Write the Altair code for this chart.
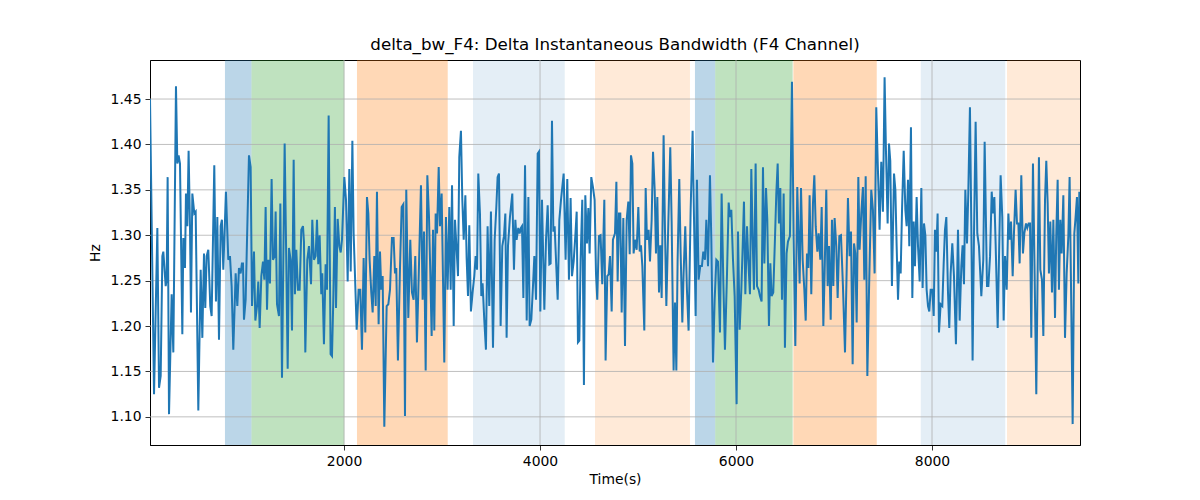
import altair as alt
import pandas as pd

time_s = [
    20, 61, 95, 112, 129, 146, 156, 180, 190, 200, 214, 241, 258, 285, 299, 312, 326, 350, 360, 377,
    387, 401, 414, 428, 438, 452, 472, 486, 513, 537, 554, 571, 584, 598, 615, 635, 649, 676, 693, 707,
    724, 741, 754, 768, 795, 819, 836, 853, 870, 894, 911, 928, 945, 958,
    969, 979, 996, 1010, 1030, 1047, 1061, 1081, 1095, 1112, 1125, 1139, 1156, 1173, 1187, 1200, 1214, 1227, 1244, 1261,
    1275, 1292, 1302, 1316, 1336, 1350, 1367, 1394, 1411, 1425, 1438, 1455, 1469, 1486, 1499, 1513, 1530, 1547, 1564, 1581,
    1591, 1605, 1625, 1642, 1663, 1676, 1693, 1710, 1724, 1737, 1751, 1768, 1778, 1795, 1812, 1826, 1843, 1863, 1877, 1890, 1907,
    1918, 1935, 1952, 1966, 1979, 2003, 2020, 2037, 2054, 2068, 2085, 2098, 2112, 2129, 2149, 2166, 2183, 2200, 2217, 2234,
    2248, 2261, 2278, 2292, 2309, 2323, 2336, 2353, 2367, 2380, 2394, 2411, 2435, 2452, 2469, 2489, 2506, 2520, 2533, 2550,
    2571, 2588, 2605, 2622, 2635, 2656, 2676, 2693, 2710, 2727, 2744, 2761, 2785, 2802, 2816, 2833, 2850,
    2867, 2881, 2894, 2908, 2921, 2935, 2949, 2966, 2979, 2996, 3010, 3023, 3040, 3057, 3074, 3088, 3102, 3119, 3132, 3149,
    3163, 3176, 3193, 3207, 3221, 3238, 3251, 3265, 3278, 3295, 3312, 3329, 3343, 3357, 3370, 3387, 3401, 3414, 3431, 3448,
    3465, 3482, 3499, 3520, 3537, 3554, 3567, 3581, 3598, 3615, 3632, 3646, 3659, 3673, 3693, 3717, 3734, 3748, 3761, 3778,
    3792, 3805,
    3816, 3830, 3847, 3864, 3881, 3894, 3911, 3928, 3942, 3959, 3976, 3989, 4003, 4020, 4044, 4061, 4078, 4095, 4108, 4122,
    4136, 4149, 4163, 4180, 4197, 4214, 4241, 4261, 4278, 4295, 4312, 4326, 4343, 4360, 4374, 4387, 4401, 4414, 4431, 4448,
    4462, 4479, 4493, 4506, 4523, 4540, 4557, 4571, 4584, 4601, 4618, 4635, 4656, 4669, 4686, 4700, 4714, 4731, 4744,
    4765, 4779, 4792, 4806, 4819, 4833, 4850, 4867, 4884, 4901, 4915, 4928, 4942, 4955, 4969, 4986, 5003, 5017, 5030, 5044,
    5064, 5078, 5091, 5108, 5122, 5139, 5153, 5170, 5183, 5197, 5214, 5227, 5241, 5261, 5275, 5289, 5309, 5329, 5343, 5363,
    5377, 5391, 5404, 5421, 5435, 5452, 5465, 5482, 5499, 5516, 5537, 5557, 5571, 5588, 5601, 5618, 5635, 5652, 5666, 5683, 5697,
    5714, 5734, 5748, 5765, 5782, 5799, 5816, 5836, 5853, 5870, 5887, 5908, 5925, 5938, 5952, 5969, 5986, 6006, 6020, 6037,
    6054, 6068, 6081, 6095, 6112, 6125, 6142, 6156, 6170, 6183, 6200, 6214, 6231, 6244, 6261, 6275, 6289, 6306, 6319, 6336,
    6350, 6363, 6380, 6397, 6411, 6425, 6438, 6452, 6469, 6486, 6499, 6516, 6530, 6550, 6571, 6588, 6605, 6625, 6649,
    6663, 6680, 6697, 6711, 6724, 6738, 6751, 6768, 6785, 6799, 6813, 6830, 6843, 6860, 6874, 6891, 6904, 6921, 6935, 6949,
    6966, 6979, 6993, 7006, 7023, 7037, 7054, 7071, 7091, 7112, 7129, 7142, 7159, 7173, 7190, 7204, 7217, 7231, 7248, 7261,
    7278, 7295, 7309, 7323, 7340, 7360, 7380, 7397, 7414, 7431, 7448, 7465, 7482, 7499, 7516, 7530, 7547, 7561, 7574, 7591,
    7612, 7626, 7639, 7653, 7666, 7680, 7694, 7711, 7728, 7741, 7755, 7768, 7785, 7799, 7813, 7826, 7843, 7857, 7874, 7891,
    7904, 7918, 7932, 7945, 7959, 7972, 7986, 8003, 8017, 8030, 8044, 8057, 8071, 8088, 8105, 8119, 8132, 8146, 8163, 8176,
    8190, 8207, 8224, 8244, 8265, 8282, 8299, 8312, 8326, 8340, 8357, 8370, 8387, 8401, 8414, 8428, 8445, 8462, 8479, 8503,
    8523, 8537,
    8561, 8575, 8592, 8609, 8622, 8636, 8649, 8670, 8683, 8700, 8717, 8731, 8745, 8762, 8779, 8792, 8806, 8823, 8836, 8853,
    8867, 8881, 8894, 8911, 8928, 8942, 8959, 8972, 8986, 9000, 9013, 9030, 9047, 9064, 9078, 9091, 9105, 9122, 9136, 9153,
    9166, 9180, 9193, 9207, 9224, 9238, 9255, 9268, 9282, 9295, 9309, 9323, 9340, 9357, 9374, 9391, 9404, 9418, 9435, 9452,
    9465, 9479, 9493, 9503, 9510,
]

bw_hz = [
    1.450, 1.125, 1.308, 1.132, 1.145, 1.277, 1.282, 1.244, 1.251, 1.364, 1.103, 1.235, 1.171, 1.464, 1.379, 1.388, 1.379, 1.191, 1.297, 1.264,
    1.346, 1.310, 1.393, 1.310, 1.215, 1.346, 1.324, 1.326, 1.107, 1.262, 1.187, 1.280, 1.220, 1.277, 1.284, 1.222, 1.211, 1.377, 1.227, 1.320,
    1.185, 1.310, 1.317, 1.262, 1.348, 1.273, 1.277, 1.244, 1.174, 1.258, 1.222, 1.264, 1.258, 1.269,
    1.269, 1.207, 1.229, 1.295, 1.388, 1.375, 1.222, 1.282, 1.206, 1.222, 1.249, 1.198, 1.255, 1.271, 1.251, 1.331, 1.218, 1.273, 1.247, 1.362,
    1.273, 1.277, 1.326, 1.224, 1.211, 1.335, 1.143, 1.401, 1.268, 1.153, 1.286, 1.273, 1.195, 1.383, 1.235, 1.284, 1.240, 1.240, 1.306, 1.310,
    1.293, 1.171, 1.273, 1.288, 1.246, 1.317, 1.273, 1.277, 1.317, 1.268, 1.300, 1.235, 1.258, 1.180, 1.268, 1.240, 1.432, 1.169, 1.167, 1.227, 1.331,
    1.220, 1.318, 1.288, 1.281, 1.295, 1.364, 1.339, 1.249, 1.373, 1.260, 1.404, 1.302, 1.255, 1.196, 1.240, 1.240, 1.174, 1.275, 1.193, 1.342,
    1.324, 1.273, 1.237, 1.215, 1.277, 1.222, 1.348, 1.202, 1.282, 1.240, 1.255, 1.089, 1.222, 1.224, 1.240, 1.297, 1.297, 1.258, 1.264, 1.162,
    1.264, 1.331, 1.334, 1.101, 1.350, 1.209, 1.295, 1.237, 1.229, 1.277, 1.182, 1.251, 1.355, 1.229, 1.304, 1.151, 1.366,
    1.320, 1.255, 1.189, 1.306, 1.195, 1.324, 1.302, 1.375, 1.310, 1.346, 1.251, 1.160, 1.320, 1.240, 1.331, 1.240, 1.355, 1.200, 1.317, 1.284,
    1.255, 1.386, 1.415, 1.339, 1.295, 1.344, 1.275, 1.233, 1.311, 1.216, 1.237, 1.255, 1.277, 1.262, 1.368, 1.324, 1.233, 1.247, 1.207, 1.174,
    1.310, 1.222, 1.326, 1.176, 1.295, 1.331, 1.364, 1.368, 1.200, 1.288, 1.299, 1.324, 1.187, 1.288, 1.320, 1.346, 1.262, 1.317, 1.295, 1.308,
    1.302, 1.308,
    1.310, 1.231, 1.377, 1.206, 1.342, 1.200, 1.207, 1.244, 1.277, 1.229, 1.390, 1.392, 1.216, 1.339, 1.218, 1.295, 1.333, 1.268, 1.269, 1.426,
    1.304, 1.310, 1.273, 1.229, 1.317, 1.339, 1.368, 1.273, 1.362, 1.251, 1.341, 1.255, 1.271, 1.299, 1.326, 1.182, 1.184, 1.273, 1.339, 1.135,
    1.344, 1.291, 1.330, 1.280, 1.364, 1.353, 1.339, 1.258, 1.229, 1.299, 1.300, 1.246, 1.339, 1.162, 1.255, 1.257, 1.277, 1.216, 1.295,
    1.302, 1.359, 1.249, 1.324, 1.324, 1.215, 1.319, 1.178, 1.317, 1.337, 1.279, 1.388, 1.379, 1.280, 1.295, 1.284, 1.331, 1.282, 1.289, 1.266,
    1.195, 1.352, 1.295, 1.306, 1.271, 1.317, 1.392, 1.350, 1.280, 1.342, 1.237, 1.289, 1.231, 1.410, 1.306, 1.222, 1.313, 1.397, 1.315, 1.151,
    1.226, 1.151, 1.273, 1.362, 1.280, 1.204, 1.258, 1.310, 1.240, 1.195, 1.328, 1.415, 1.320, 1.211, 1.361, 1.251, 1.266, 1.266, 1.282, 1.273, 1.317,
    1.266, 1.366, 1.295, 1.160, 1.229, 1.273, 1.271, 1.193, 1.346, 1.251, 1.174, 1.258, 1.336, 1.320, 1.328, 1.273, 1.233, 1.114, 1.304, 1.196,
    1.240, 1.288, 1.337, 1.235, 1.310, 1.273, 1.235, 1.373, 1.295, 1.240, 1.379, 1.244, 1.240, 1.233, 1.227, 1.375, 1.269, 1.352, 1.317, 1.200,
    1.269, 1.233, 1.237, 1.295, 1.346, 1.379, 1.313, 1.352, 1.229, 1.346, 1.176, 1.280, 1.293, 1.299, 1.469, 1.295, 1.178, 1.353, 1.247,
    1.352, 1.273, 1.240, 1.206, 1.280, 1.264, 1.344, 1.235, 1.335, 1.366, 1.310, 1.282, 1.302, 1.273, 1.331, 1.200, 1.258, 1.350, 1.244, 1.288,
    1.207, 1.317, 1.244, 1.319, 1.288, 1.231, 1.299, 1.300, 1.244, 1.171, 1.262, 1.341, 1.277, 1.304, 1.158, 1.291, 1.280, 1.204, 1.364, 1.284,
    1.324, 1.353, 1.251, 1.365, 1.145, 1.255, 1.350, 1.328, 1.258, 1.441, 1.372, 1.306, 1.381, 1.326, 1.474, 1.393, 1.313, 1.401, 1.382, 1.244,
    1.368, 1.350, 1.288, 1.229, 1.271, 1.258, 1.328, 1.393, 1.328, 1.310, 1.361, 1.288, 1.419, 1.231, 1.315, 1.266, 1.342, 1.288, 1.249, 1.352,
    1.242, 1.313, 1.300, 1.240, 1.222, 1.216, 1.240, 1.240, 1.211, 1.306, 1.282, 1.324, 1.193, 1.224, 1.222, 1.269, 1.306, 1.320, 1.237, 1.198,
    1.258, 1.291, 1.255, 1.180, 1.306, 1.206, 1.266, 1.289, 1.246, 1.350, 1.291, 1.346, 1.441, 1.310, 1.162, 1.299, 1.425, 1.302, 1.288, 1.233,
    1.273, 1.403,
    1.244, 1.244, 1.277, 1.348, 1.324, 1.342, 1.291, 1.198, 1.273, 1.366, 1.320, 1.206, 1.277, 1.240, 1.324, 1.295, 1.315, 1.255, 1.302, 1.350,
    1.313, 1.313, 1.269, 1.366, 1.280, 1.302, 1.313, 1.308, 1.313, 1.313, 1.187, 1.379, 1.258, 1.125, 1.262, 1.386, 1.262, 1.251, 1.189, 1.339,
    1.382, 1.335, 1.258, 1.315, 1.237, 1.317, 1.209, 1.302, 1.361, 1.240, 1.317, 1.280, 1.344, 1.187, 1.258, 1.299, 1.364, 1.247, 1.092, 1.302,
    1.320, 1.342, 1.247, 1.348, 1.320,
]

span_start = [785, 1056, 2132, 3316, 4561, 5581, 5788, 6585, 7885, 8765]
span_end = [1056, 2002, 3058, 4252, 5530, 5788, 6578, 7436, 8747, 9510]
span_color = ["#1f77b4", "#2ca02c", "#ff7f0e", "#1f77b4", "#ff7f0e",
              "#1f77b4", "#2ca02c", "#ff7f0e", "#1f77b4", "#ff7f0e"]
span_alpha = [0.3, 0.3, 0.3, 0.12, 0.16, 0.3, 0.3, 0.3, 0.12, 0.16]

x_ticks = [2000, 4000, 6000, 8000]
y_ticks = [1.10, 1.15, 1.20, 1.25, 1.30, 1.35, 1.40, 1.45]
x_domain = [20, 9510]
y_domain = [1.069, 1.493]

FONT = "DejaVu Sans"

series = pd.DataFrame({"time": time_s, "bw": bw_hz})
spans = pd.DataFrame({"start": span_start, "end": span_end,
                      "color": span_color, "alpha": span_alpha})
xgrid = pd.DataFrame({"t": x_ticks})
ygrid = pd.DataFrame({"v": y_ticks})

xs = alt.Scale(domain=x_domain, nice=False, zero=False)
ys = alt.Scale(domain=y_domain, nice=False, zero=False)

axis_common = dict(grid=False, tickColor="black", domainColor="black", tickSize=5,
                   labelPadding=4, labelFontSize=13.9, labelColor="black",
                   titleFontSize=13.9, titleFontWeight="normal", titleColor="black",
                   labelFont=FONT, titleFont=FONT, tickWidth=0.8, domainWidth=0.8)

x_axis = alt.Axis(values=x_ticks, format="d", titlePadding=5, **axis_common)
y_axis = alt.Axis(values=y_ticks, format=".2f", titlePadding=8, **axis_common)

span_layer = alt.Chart(spans).mark_rect(strokeWidth=0).encode(
    x=alt.X("start:Q", scale=xs, axis=x_axis, title="Time(s)"),
    x2="end:Q",
    color=alt.Color("color:N", scale=None),
    opacity=alt.Opacity("alpha:Q", scale=None),
)

vgrid = alt.Chart(xgrid).mark_rule(color="#b0b0b0", strokeWidth=0.8).encode(
    x=alt.X("t:Q", scale=xs, axis=x_axis, title="Time(s)")
)
hgrid = alt.Chart(ygrid).mark_rule(color="#b0b0b0", strokeWidth=0.8).encode(
    y=alt.Y("v:Q", scale=ys, axis=y_axis, title="Hz")
)

line = alt.Chart(series).mark_line(color="#1f77b4", strokeWidth=2, clip=True).encode(
    x=alt.X("time:Q", scale=xs, axis=x_axis, title="Time(s)"),
    y=alt.Y("bw:Q", scale=ys, axis=y_axis, title="Hz"),
)

chart = alt.layer(span_layer, vgrid, hgrid, line).properties(
    width=930,
    height=385,
    padding={"left": 142, "top": 52, "right": 110, "bottom": 52},
    autosize=alt.AutoSizeParams(type="none"),
    title=alt.TitleParams(
        "delta_bw_F4: Delta Instantaneous Bandwidth (F4 Channel)",
        fontSize=16.7, font=FONT, fontWeight="normal", anchor="middle",
        offset=6, color="black",
    ),
).configure_view(stroke="black", strokeWidth=1)

chart.save("out.html", embed_options={"renderer": "svg", "actions": False})
